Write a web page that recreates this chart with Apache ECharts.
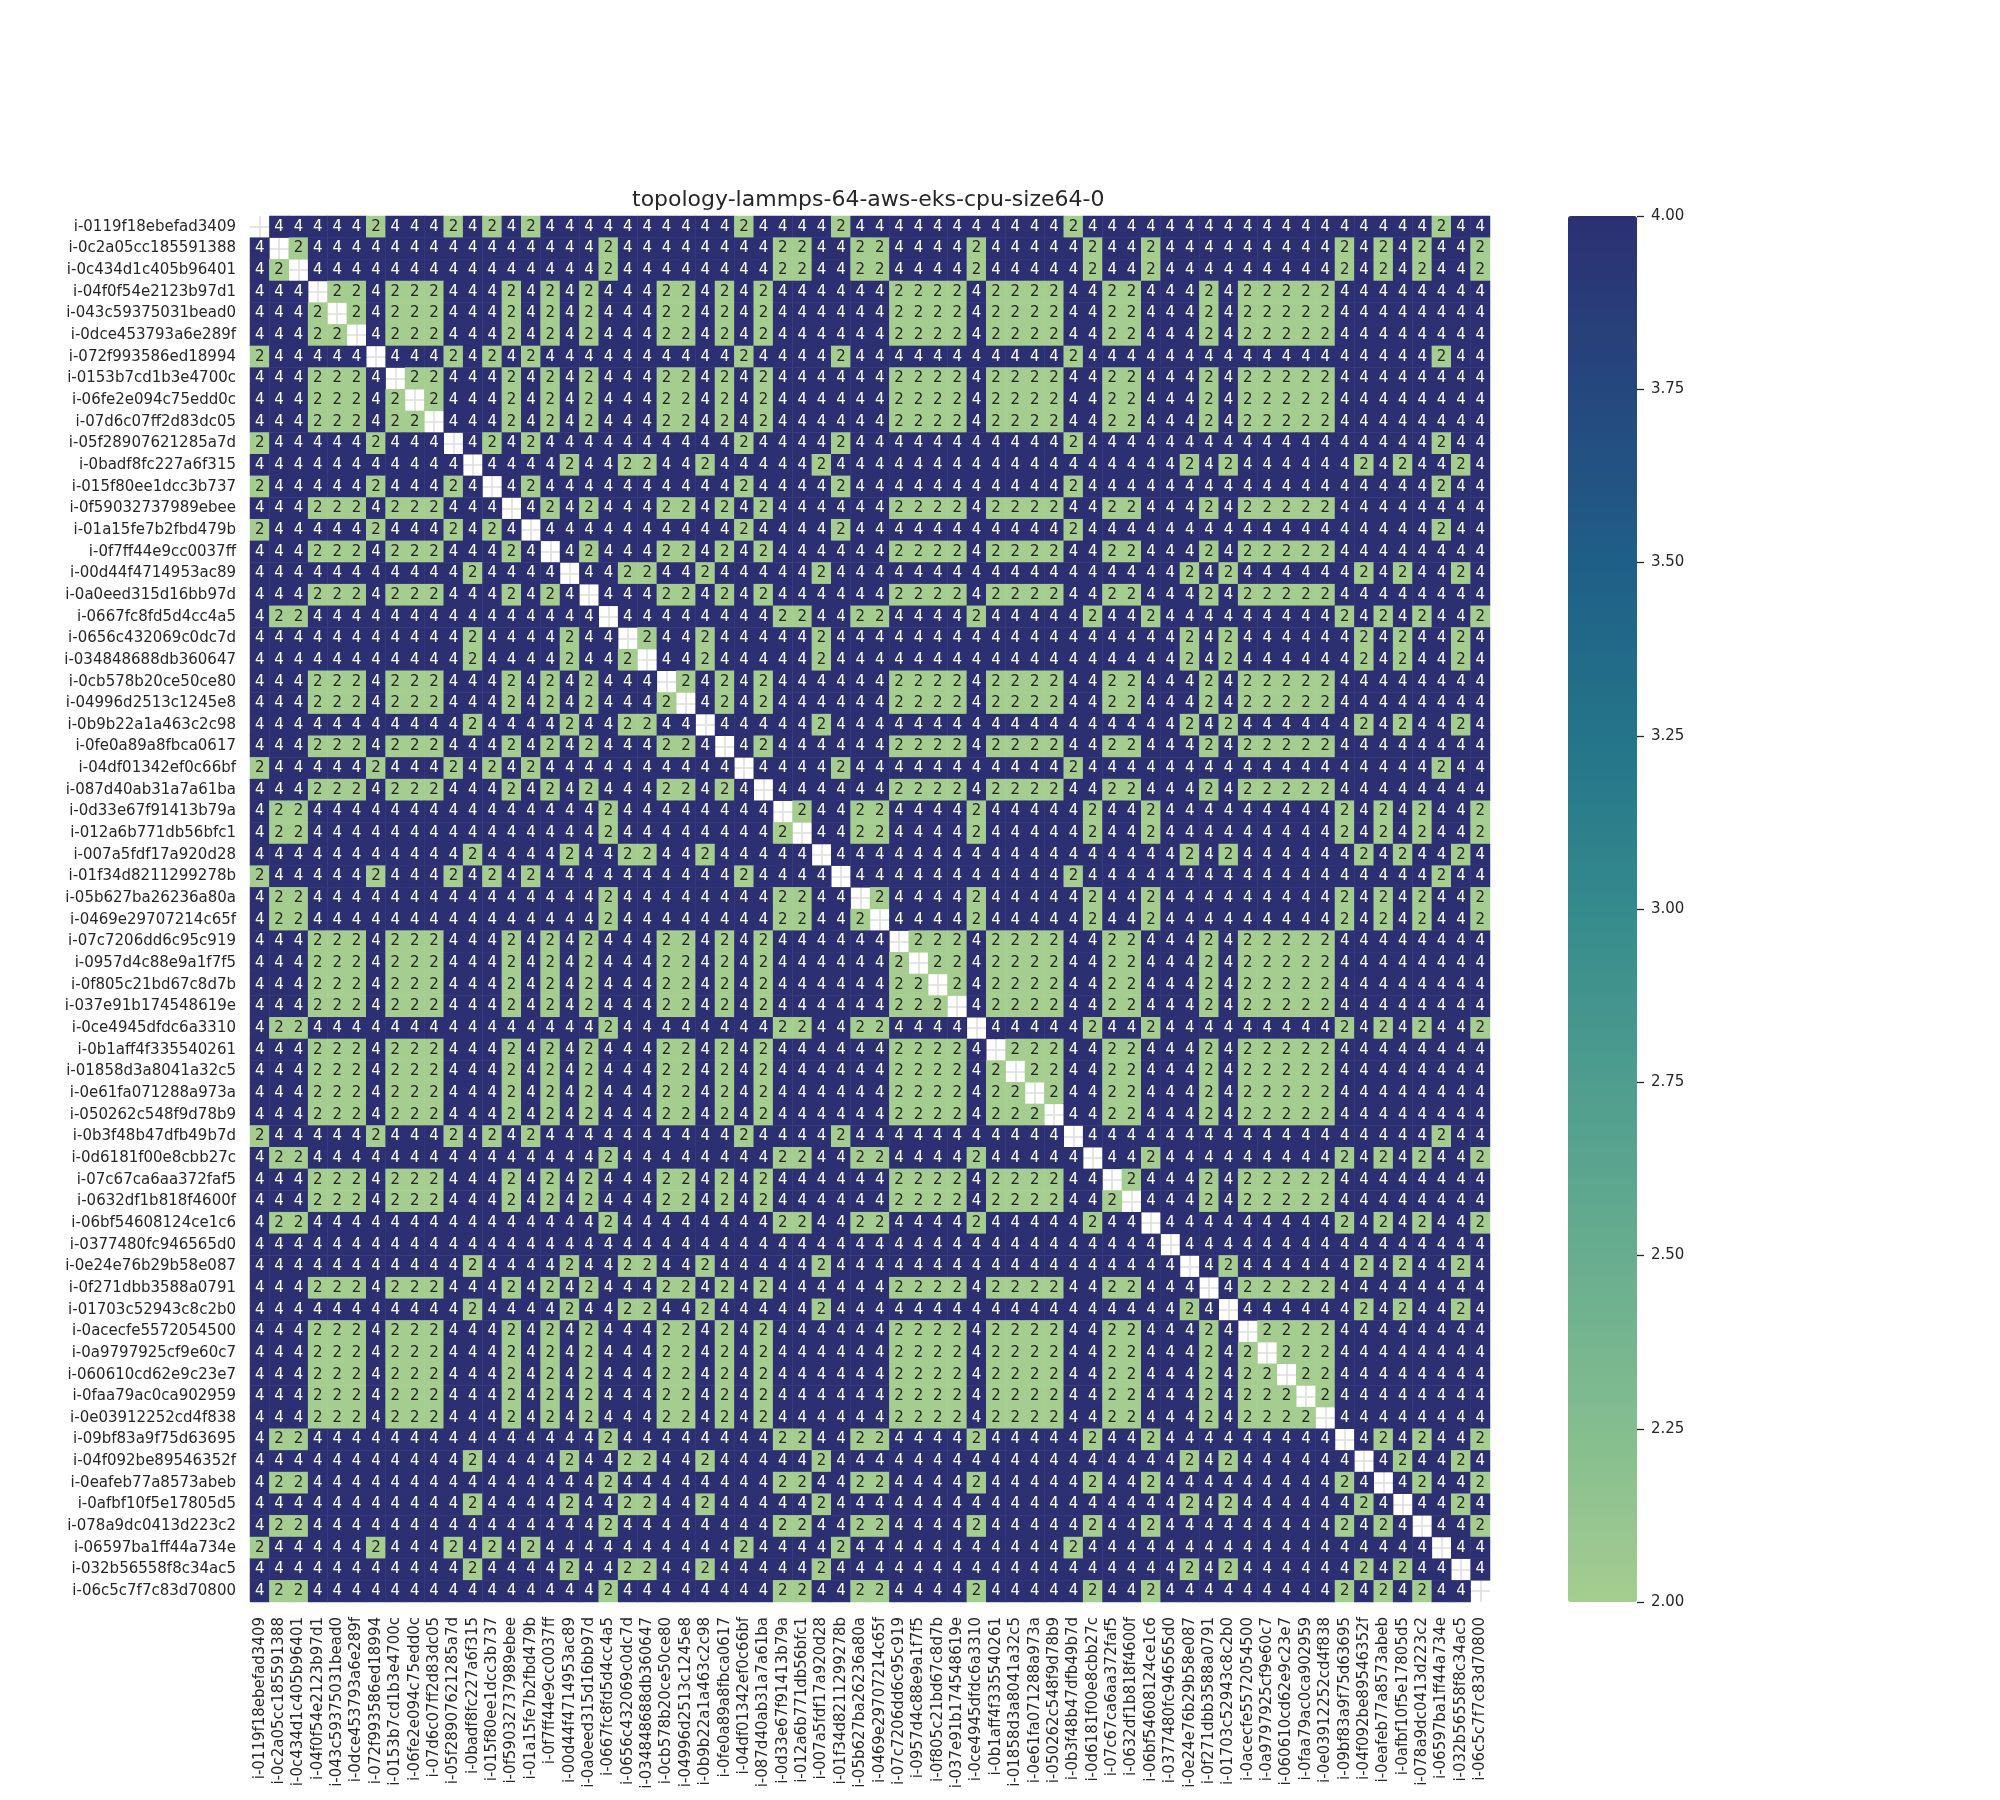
<!DOCTYPE html>
<html>
<head>
<meta charset="utf-8">
<title>topology-lammps-64-aws-eks-cpu-size64-0</title>
<script src="https://cdn.jsdelivr.net/npm/echarts@6/dist/echarts.min.js"></script>
<style>
  html, body { margin: 0; padding: 0; background: #ffffff; }
  #main { width: 2000px; height: 1800px; }
</style>
</head>
<body>
<div id="main"></div>
<script>
var instances = [
  'i-0119f18ebefad3409', 'i-0c2a05cc185591388', 'i-0c434d1c405b96401', 'i-04f0f54e2123b97d1',
  'i-043c59375031bead0', 'i-0dce453793a6e289f', 'i-072f993586ed18994', 'i-0153b7cd1b3e4700c',
  'i-06fe2e094c75edd0c', 'i-07d6c07ff2d83dc05', 'i-05f28907621285a7d', 'i-0badf8fc227a6f315',
  'i-015f80ee1dcc3b737', 'i-0f59032737989ebee', 'i-01a15fe7b2fbd479b', 'i-0f7ff44e9cc0037ff',
  'i-00d44f4714953ac89', 'i-0a0eed315d16bb97d', 'i-0667fc8fd5d4cc4a5', 'i-0656c432069c0dc7d',
  'i-034848688db360647', 'i-0cb578b20ce50ce80', 'i-04996d2513c1245e8', 'i-0b9b22a1a463c2c98',
  'i-0fe0a89a8fbca0617', 'i-04df01342ef0c66bf', 'i-087d40ab31a7a61ba', 'i-0d33e67f91413b79a',
  'i-012a6b771db56bfc1', 'i-007a5fdf17a920d28', 'i-01f34d8211299278b', 'i-05b627ba26236a80a',
  'i-0469e29707214c65f', 'i-07c7206dd6c95c919', 'i-0957d4c88e9a1f7f5', 'i-0f805c21bd67c8d7b',
  'i-037e91b174548619e', 'i-0ce4945dfdc6a3310', 'i-0b1aff4f335540261', 'i-01858d3a8041a32c5',
  'i-0e61fa071288a973a', 'i-050262c548f9d78b9', 'i-0b3f48b47dfb49b7d', 'i-0d6181f00e8cbb27c',
  'i-07c67ca6aa372faf5', 'i-0632df1b818f4600f', 'i-06bf54608124ce1c6', 'i-0377480fc946565d0',
  'i-0e24e76b29b58e087', 'i-0f271dbb3588a0791', 'i-01703c52943c8c2b0', 'i-0acecfe5572054500',
  'i-0a9797925cf9e60c7', 'i-060610cd62e9c23e7', 'i-0faa79ac0ca902959', 'i-0e03912252cd4f838',
  'i-09bf83a9f75d63695', 'i-04f092be89546352f', 'i-0eafeb77a8573abeb', 'i-0afbf10f5e17805d5',
  'i-078a9dc0413d223c2', 'i-06597ba1ff44a734e', 'i-032b56558f8c34ac5', 'i-06c5c7f7c83d70800'
];

// one string per row, one digit per column, '-' = empty diagonal cell
var rows = [
  '-444442444 2424244444 4444424444 2444444444 4424444444 4444444444 4244',
  '4-24444444 4444444424 4444444224 4224444244 4442442444 4444442424 2442',
  '42-4444444 4444444424 4444444224 4224444244 4442442444 4444442424 2442',
  '444-224222 4442424244 4224242444 4442222422 2244224442 4222224444 4444',
  '4442-24222 4442424244 4224242444 4442222422 2244224442 4222224444 4444',
  '44422-4222 4442424244 4224242444 4442222422 2244224442 4222224444 4444',
  '244444-444 2424244444 4444424444 2444444444 4424444444 4444444444 4244',
  '4442224-22 4442424244 4224242444 4442222422 2244224442 4222224444 4444',
  '44422242-2 4442424244 4224242444 4442222422 2244224442 4222224444 4444',
  '444222422- 4442424244 4224242444 4442222422 2244224442 4222224444 4444',
  '2444442444 -424244444 4444424444 2444444444 4424444444 4444444444 4244',
  '4444444444 4-44442442 2442444442 4444444444 4444444424 2444444242 4424',
  '2444442444 24-4244444 4444424444 2444444444 4424444444 4444444444 4244',
  '4442224222 444-424244 4224242444 4442222422 2244224442 4222224444 4444',
  '2444442444 2424-44444 4444424444 2444444444 4424444444 4444444444 4244',
  '4442224222 44424-4244 4224242444 4442222422 2244224442 4222224444 4444',
  '4444444444 424444-442 2442444442 4444444444 4444444424 2444444242 4424',
  '4442224222 4442424-44 4224242444 4442222422 2244224442 4222224444 4444',
  '4224444444 44444444-4 4444444224 4224444244 4442442444 4444442424 2442',
  '4444444444 424444244- 2442444442 4444444444 4444444424 2444444242 4424',
  '4444444444 4244442442 -442444442 4444444444 4444444424 2444444242 4424',
  '4442224222 4442424244 4-24242444 4442222422 2244224442 4222224444 4444',
  '4442224222 4442424244 42-4242444 4442222422 2244224442 4222224444 4444',
  '4444444444 4244442442 244-444442 4444444444 4444444424 2444444242 4424',
  '4442224222 4442424244 4224-42444 4442222422 2244224442 4222224444 4444',
  '2444442444 2424244444 44444-4444 2444444444 4424444444 4444444444 4244',
  '4442224222 4442424244 422424-444 4442222422 2244224442 4222224444 4444',
  '4224444444 4444444424 4444444-24 4224444244 4442442444 4444442424 2442',
  '4224444444 4444444424 44444442-4 4224444244 4442442444 4444442424 2442',
  '4444444444 4244442442 244244444- 4444444444 4444444424 2444444242 4424',
  '2444442444 2424244444 4444424444 -444444444 4424444444 4444444444 4244',
  '4224444444 4444444424 4444444224 4-24444244 4442442444 4444442424 2442',
  '4224444444 4444444424 4444444224 42-4444244 4442442444 4444442424 2442',
  '4442224222 4442424244 4224242444 444-222422 2244224442 4222224444 4444',
  '4442224222 4442424244 4224242444 4442-22422 2244224442 4222224444 4444',
  '4442224222 4442424244 4224242444 44422-2422 2244224442 4222224444 4444',
  '4442224222 4442424244 4224242444 444222-422 2244224442 4222224444 4444',
  '4224444444 4444444424 4444444224 4224444-44 4442442444 4444442424 2442',
  '4442224222 4442424244 4224242444 44422224-2 2244224442 4222224444 4444',
  '4442224222 4442424244 4224242444 444222242- 2244224442 4222224444 4444',
  '4442224222 4442424244 4224242444 4442222422 -244224442 4222224444 4444',
  '4442224222 4442424244 4224242444 4442222422 2-44224442 4222224444 4444',
  '2444442444 2424244444 4444424444 2444444444 44-4444444 4444444444 4244',
  '4224444444 4444444424 4444444224 4224444244 444-442444 4444442424 2442',
  '4442224222 4442424244 4224242444 4442222422 2244-24442 4222224444 4444',
  '4442224222 4442424244 4224242444 4442222422 22442-4442 4222224444 4444',
  '4224444444 4444444424 4444444224 4224444244 444244-444 4444442424 2442',
  '4444444444 4444444444 4444444444 4444444444 4444444-44 4444444444 4444',
  '4444444444 4244442442 2442444442 4444444444 44444444-4 2444444242 4424',
  '4442224222 4442424244 4224242444 4442222422 224422444- 4222224444 4444',
  '4444444444 4244442442 2442444442 4444444444 4444444424 -444444242 4424',
  '4442224222 4442424244 4224242444 4442222422 2244224442 4-22224444 4444',
  '4442224222 4442424244 4224242444 4442222422 2244224442 42-2224444 4444',
  '4442224222 4442424244 4224242444 4442222422 2244224442 422-224444 4444',
  '4442224222 4442424244 4224242444 4442222422 2244224442 4222-24444 4444',
  '4442224222 4442424244 4224242444 4442222422 2244224442 42222-4444 4444',
  '4224444444 4444444424 4444444224 4224444244 4442442444 444444-424 2442',
  '4444444444 4244442442 2442444442 4444444444 4444444424 2444444-42 4424',
  '4224444444 4444444424 4444444224 4224444244 4442442444 44444424-4 2442',
  '4444444444 4244442442 2442444442 4444444444 4444444424 244444424- 4424',
  '4224444444 4444444424 4444444224 4224444244 4442442444 4444442424 -442',
  '2444442444 2424244444 4444424444 2444444444 4424444444 4444444444 4-44',
  '4444444444 4244442442 2442444442 4444444444 4444444424 2444444242 44-4',
  '4224444444 4444444424 4444444224 4224444244 4442442444 4444442424 244-'
];

var colorTicks = [2.0, 2.25, 2.5, 2.75, 3.0, 3.25, 3.5, 3.75, 4.0];
var crest = ['#a5cd90', '#84bd8f', '#67ad8f', '#4f9d8f', '#358a8c', '#24748a', '#1f5f87', '#25477f', '#2c3072'];

var cells = [];
rows.forEach(function (r, y) {
  var s = r.replace(/ /g, '');
  for (var x = 0; x < s.length; x++) {
    if (s[x] === '-') continue;
    var v = +s[x];
    cells.push({ value: [x, y, v], label: { color: v < 3 ? '#262626' : '#ffffff' } });
  }
});

var font = 'DejaVu Sans';
var myChart = echarts.init(document.getElementById('main'));
var option = {
  backgroundColor: '#ffffff',
  animation: false,
  title: {
    text: 'topology-lammps-64-aws-eks-cpu-size64-0',
    left: 632,
    top: 189,
    padding: 0,
    textStyle: { fontFamily: font, fontSize: 22, fontWeight: 'normal', color: '#262626' }
  },
  grid: [
    { left: 250, top: 216, width: 1240, height: 1386 },
    { left: 1568, top: 216, width: 69, height: 1386 }
  ],
  xAxis: [
    {
      type: 'category',
      gridIndex: 0,
      data: instances,
      position: 'bottom',
      axisLine: { show: false },
      axisTick: { show: false, alignWithLabel: true, interval: 0 },
      axisLabel: { interval: 0, rotate: 90, margin: 15, fontFamily: font, fontSize: 15, color: '#262626' },
      splitLine: { show: true, interval: 0, alignWithLabel: true, lineStyle: { color: '#dcdcdc', width: 1.5 } }
    },
    {
      type: 'value', gridIndex: 1, min: 0, max: 1,
      axisLine: { show: false, onZero: false }, axisTick: { show: false }, axisLabel: { show: false }, splitLine: { show: false }
    }
  ],
  yAxis: [
    {
      type: 'category',
      gridIndex: 0,
      data: instances,
      inverse: true,
      axisLine: { show: false },
      axisTick: { show: false, alignWithLabel: true, interval: 0 },
      axisLabel: { interval: 0, margin: 14, fontFamily: font, fontSize: 15, color: '#262626' },
      splitLine: { show: true, interval: 0, alignWithLabel: true, lineStyle: { color: '#dcdcdc', width: 1.5 } }
    },
    {
      type: 'value',
      gridIndex: 1,
      position: 'right',
      min: 2,
      max: 4,
      interval: 0.25,
      axisLine: { show: false, onZero: false },
      axisTick: { show: true, length: 7, lineStyle: { color: '#262626', width: 1.3 } },
      axisLabel: {
        margin: 14, fontFamily: font, fontSize: 15, color: '#262626',
        formatter: function (v) { return v.toFixed(2); }
      },
      splitLine: { show: false }
    }
  ],
  visualMap: {
    type: 'continuous',
    seriesIndex: 0,
    min: colorTicks[0],
    max: colorTicks[colorTicks.length - 1],
    calculable: false,
    hoverLink: false,
    orient: 'vertical',
    left: 1568,
    top: 216,
    padding: 0,
    itemWidth: 69,
    itemHeight: 1386,
    inRange: { color: crest }
  },
  series: [
    {
      type: 'heatmap',
      xAxisIndex: 0,
      yAxisIndex: 0,
      data: cells,
      itemStyle: { borderWidth: 0 },
      label: { show: true, fontFamily: font, fontSize: 15 },
      emphasis: { disabled: true }
    }
  ]
};
myChart.setOption(option);
</script>
</body>
</html>
